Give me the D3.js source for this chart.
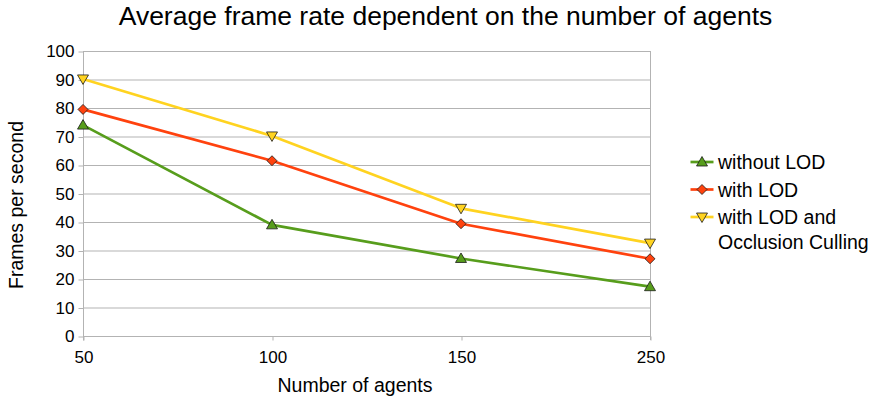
<!DOCTYPE html>
<html>
<head>
<meta charset="utf-8">
<script src="https://cdn.jsdelivr.net/npm/d3@7"></script>
<style>
  body { margin: 0; background: #fff; }
  svg { display: block; font-family: "Liberation Sans", Arial, sans-serif; }
</style>
</head>
<body>
<svg id="chart" width="879" height="401"></svg>
<script>
// Agent counts on the x axis
const agents = ["50", "100", "150", "250"];
// Average frames per second for each configuration
const withoutLOD = [74, 39, 27.2, 17.3];
const withLOD = [79.5, 61.5, 39.4, 27.1];
const withLODOcclusion = [90.2, 70.2, 44.8, 32.6];
const yTicks = [0, 10, 20, 30, 40, 50, 60, 70, 80, 90, 100];

const seriesNames = ["without LOD", "with LOD", "with LOD and\nOcclusion Culling"];
const seriesColors = ["#579d1c", "#ff420e", "#ffd320"];
const seriesSymbols = ["up", "diamond", "down"];
const seriesValues = [withoutLOD, withLOD, withLODOcclusion];

const svg = d3.select("#chart");
const plotLeft = 83, plotRight = 650, plotTop = 51, plotBottom = 336;

const x = d3.scalePoint().domain(agents).range([plotLeft, plotRight]);
const y = d3.scaleLinear().domain([0, 100]).range([plotBottom, plotTop]);

const grid = "#b3b3b3";
const fontFamily = "Liberation Sans, Arial, sans-serif";

// Horizontal gridlines
svg.append("g").selectAll("line").data(yTicks.filter(d => d > 0)).join("line")
  .attr("x1", plotLeft).attr("x2", plotRight)
  .attr("y1", d => y(d) + 0.5).attr("y2", d => y(d) + 0.5)
  .attr("stroke", grid).attr("stroke-width", 1);

// Right border of the plot
svg.append("line")
  .attr("x1", plotRight + 0.5).attr("x2", plotRight + 0.5)
  .attr("y1", plotTop).attr("y2", plotBottom + 4)
  .attr("stroke", grid);

// Y axis
const yAxis = svg.append("g")
  .attr("transform", `translate(${plotLeft + 0.5},0.5)`)
  .call(d3.axisLeft(y).tickValues(yTicks).tickSize(5).tickPadding(4));
yAxis.select(".domain").attr("stroke", grid).attr("d", `M0,${plotTop - 0.5}V${plotBottom + 4}`);
yAxis.selectAll(".tick line").attr("stroke", grid);
yAxis.selectAll(".tick text").attr("font-size", 17).attr("fill", "#000")
  .attr("font-family", fontFamily);

// X axis
const xAxis = svg.append("g")
  .attr("transform", `translate(0.5,${plotBottom + 0.5})`)
  .call(d3.axisBottom(x).tickSize(4).tickPadding(10));
xAxis.select(".domain").attr("stroke", grid).attr("d", `M${plotLeft},0H${plotRight}`);
xAxis.selectAll(".tick line").attr("stroke", grid);
xAxis.selectAll(".tick text").attr("font-size", 17).attr("fill", "#000")
  .attr("font-family", fontFamily);

// Marker shapes
function symbolPath(kind) {
  if (kind === "up") return "M0,-5.5L5.5,4L-5.5,4Z";
  if (kind === "down") return "M0,5.5L5.5,-4L-5.5,-4Z";
  return "M0,-5L5,0L0,5L-5,0Z";
}

const line = d3.line().x((d, i) => x(agents[i])).y(d => y(d));

seriesValues.forEach((vals, k) => {
  svg.append("path").datum(vals)
    .attr("d", line)
    .attr("fill", "none")
    .attr("stroke", seriesColors[k])
    .attr("stroke-width", 2.7)
    .attr("stroke-linejoin", "round");
});
seriesValues.forEach((vals, k) => {
  svg.append("g").selectAll("path").data(vals).join("path")
    .attr("transform", (d, i) => `translate(${x(agents[i])},${y(d)})`)
    .attr("d", symbolPath(seriesSymbols[k]))
    .attr("fill", seriesColors[k])
    .attr("stroke", "#1a1a1a")
    .attr("stroke-width", 0.8);
});

// Title
svg.append("text")
  .attr("x", 445.5).attr("y", 25)
  .attr("text-anchor", "middle")
  .attr("font-size", 26.5)
  .attr("font-family", fontFamily)
  .text("Average frame rate dependent on the number of agents");

// Axis titles
svg.append("text")
  .attr("x", 355).attr("y", 392)
  .attr("text-anchor", "middle")
  .attr("font-size", 19.5)
  .attr("font-family", fontFamily)
  .text("Number of agents");

svg.append("text")
  .attr("transform", "translate(23,205) rotate(-90)")
  .attr("text-anchor", "middle")
  .attr("font-size", 19.5)
  .attr("font-family", fontFamily)
  .text("Frames per second");

// Legend
const legendRows = [162, 189.5, 217];
seriesNames.forEach((name, k) => {
  const g = svg.append("g").attr("transform", `translate(702,${legendRows[k]})`);
  g.append("line").attr("x1", -11.5).attr("x2", 11.5).attr("y1", 0).attr("y2", 0)
    .attr("stroke", seriesColors[k]).attr("stroke-width", 2.7);
  g.append("path").attr("d", symbolPath(seriesSymbols[k]))
    .attr("fill", seriesColors[k]).attr("stroke", "#1a1a1a").attr("stroke-width", 0.8);
  const t = g.append("text").attr("x", 16).attr("y", 7).attr("font-size", 19.5)
    .attr("font-family", fontFamily);
  name.split("\n").forEach((ln, j) => {
    t.append("tspan").attr("x", 16).attr("dy", j === 0 ? 0 : 25).text(ln);
  });
});
</script>
</body>
</html>
